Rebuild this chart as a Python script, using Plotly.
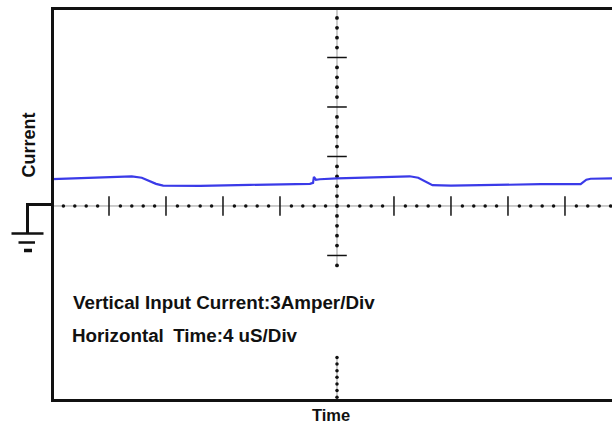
import numpy as np
import plotly.graph_objects as go

# ---- data ----
TIME_US = [-20.0, -16.7, -14.4, -13.7, -13.0, -12.7, -12.2, -9.6, -6.1, -1.9,
           -1.68, -1.62, -1.48, -1.2, 0.0, 2.3, 5.1, 5.7, 6.2, 6.7, 8.0,
           11.5, 14.3, 17.1, 17.5, 17.8, 19.4]
CURRENT_A = [1.63, 1.73, 1.79, 1.71, 1.43, 1.34, 1.24, 1.22, 1.28, 1.34,
             1.40, 1.76, 1.59, 1.62, 1.67, 1.71, 1.80, 1.71, 1.47, 1.26, 1.23,
             1.29, 1.32, 1.32, 1.59, 1.65, 1.68]

US_PER_DIV = 4
A_PER_DIV = 3
X_LABEL = "Time"
Y_LABEL = "Current"
NOTE_1 = "Vertical Input Current:3Amper/Div"
NOTE_2 = "Horizontal\u2002Time:4 uS/Div"

W, H = 612, 425
ML, MR, MT, MB = 52, 0, 8, 24
PW, PH = W - ML - MR, H - MT - MB

X_RANGE = [-5 * US_PER_DIV, 4.825 * US_PER_DIV]
Y_RANGE = [-3.94 * A_PER_DIV, 4.0 * A_PER_DIV]


def px(xp):
    return (xp - ML) / PW


def py(yp):
    return (H - MB - yp) / PH


FONT = "Liberation Sans, Arial, sans-serif"

fig = go.Figure()

# grid cross (graticule) -- decoration
hx_minor = [v * US_PER_DIV for v in np.round(np.arange(-5, 4.81, 0.2), 3) if abs(v - round(v)) > 1e-6]
hx_major = [v * US_PER_DIV for v in range(-4, 5) if v != 0]
vy_minor = [v * A_PER_DIV for v in np.round(np.arange(-1.2, 4.0, 0.2), 3) if abs(v - round(v)) > 1e-6 or v == 0]
vy_major = [v * A_PER_DIV for v in (-1, 1, 2, 3)]
vy_low = [v * A_PER_DIV for v in np.round(np.arange(-3.06, -3.95, -0.134), 3)]

fig.add_shape(type="line", xref="x", yref="y", x0=X_RANGE[0], x1=X_RANGE[1], y0=0, y1=0,
              line=dict(color="#9a9a9a", width=1), layer="below")
fig.add_shape(type="line", xref="x", yref="y", x0=0, x1=0, y0=-1.2 * A_PER_DIV, y1=Y_RANGE[1],
              line=dict(color="#9a9a9a", width=1), layer="below")
fig.add_shape(type="line", xref="x", yref="y", x0=0, x1=0, y0=vy_low[-1], y1=vy_low[0],
              line=dict(color="#9a9a9a", width=1), layer="below")

fig.add_trace(go.Scatter(x=hx_minor, y=[0] * len(hx_minor), mode="markers",
                         marker=dict(size=3.5, color="#111"), hoverinfo="skip", showlegend=False))
fig.add_trace(go.Scatter(x=hx_major, y=[0] * len(hx_major), mode="markers",
                         marker=dict(symbol="line-ns", size=14, line=dict(width=1.5, color="#111")),
                         hoverinfo="skip", showlegend=False))
fig.add_trace(go.Scatter(x=[0] * len(vy_minor), y=vy_minor, mode="markers",
                         marker=dict(size=3.8, color="#111"), hoverinfo="skip", showlegend=False))
fig.add_trace(go.Scatter(x=[0] * len(vy_low), y=vy_low, mode="markers",
                         marker=dict(size=3.5, color="#111"), hoverinfo="skip", showlegend=False))
fig.add_trace(go.Scatter(x=[0] * len(vy_major), y=vy_major, mode="markers",
                         marker=dict(symbol="line-ew", size=14, line=dict(width=1.5, color="#111")),
                         hoverinfo="skip", showlegend=False))

# signal
fig.add_trace(go.Scatter(x=TIME_US, y=CURRENT_A, mode="lines",
                         line=dict(color="#3a3ae8", width=2.2), showlegend=False))

# frame
frame = dict(color="#111", width=3)
fig.add_shape(type="line", xref="paper", yref="paper", x0=px(52.5), x1=px(52.5), y0=py(401), y1=py(8), line=frame)
fig.add_shape(type="line", xref="paper", yref="paper", x0=px(51), x1=1, y0=py(8.5), y1=py(8.5), line=frame)
fig.add_shape(type="line", xref="paper", yref="paper", x0=px(51), x1=1, y0=py(400.5), y1=py(400.5), line=frame)

# ground symbol
g = dict(color="#111", width=3)
fig.add_shape(type="line", xref="paper", yref="paper", x0=px(27.5), x1=px(52), y0=py(204.5), y1=py(204.5), line=g)
fig.add_shape(type="line", xref="paper", yref="paper", x0=px(27.5), x1=px(27.5), y0=py(203), y1=py(233), line=g)
fig.add_shape(type="line", xref="paper", yref="paper", x0=px(11.5), x1=px(43.5), y0=py(233.5), y1=py(233.5),
              line=dict(color="#111", width=2.5))
fig.add_shape(type="line", xref="paper", yref="paper", x0=px(18.5), x1=px(35), y0=py(242.5), y1=py(242.5),
              line=dict(color="#111", width=2.5))
fig.add_shape(type="line", xref="paper", yref="paper", x0=px(24), x1=px(32), y0=py(250.5), y1=py(250.5),
              line=dict(color="#111", width=3.5))

# texts
fig.add_annotation(text=f"<b>{NOTE_1}</b>", xref="paper", yref="paper", x=px(70.5), y=py(302.5),
                   xanchor="left", yanchor="middle", showarrow=False,
                   font=dict(family=FONT, size=18.8, color="#111"))
fig.add_annotation(text=f"<b>{NOTE_2}</b>", xref="paper", yref="paper", x=px(69.5), y=py(335),
                   xanchor="left", yanchor="middle", showarrow=False,
                   font=dict(family=FONT, size=18.8, color="#111"))
fig.add_annotation(text=f"<b>{Y_LABEL}</b>", xref="paper", yref="paper", x=px(28.5), y=py(145),
                   xanchor="center", yanchor="middle", textangle=-90, showarrow=False,
                   font=dict(family=FONT, size=18, color="#111"))
fig.add_annotation(text=f"<b>{X_LABEL}</b>", xref="paper", yref="paper", x=px(331), y=py(424.8),
                   xanchor="center", yanchor="bottom", showarrow=False, borderpad=0,
                   font=dict(family=FONT, size=16.5, color="#111"))

fig.update_layout(
    width=W, height=H,
    margin=dict(l=ML, r=MR, t=MT, b=MB, pad=0),
    paper_bgcolor="white", plot_bgcolor="white",
    xaxis=dict(range=X_RANGE, showgrid=False, zeroline=False, showticklabels=False,
               ticks="", showline=False, fixedrange=True),
    yaxis=dict(range=Y_RANGE, showgrid=False, zeroline=False, showticklabels=False,
               ticks="", showline=False, fixedrange=True),
)

fig.write_html("out.html")
